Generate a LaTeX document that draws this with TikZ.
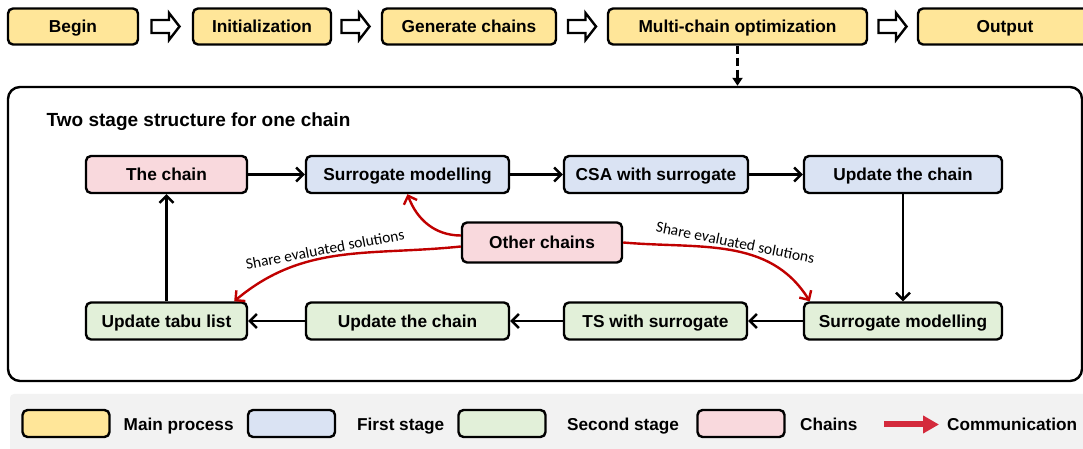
\documentclass[tikz,border=0pt]{standalone}
\usepackage{fontspec}
\setmainfont{Liberation Sans}
\newfontfamily\labelfont{Carlito}
\usetikzlibrary{arrows.meta}

\definecolor{mainfill}{HTML}{FFE699}
\definecolor{firstfill}{HTML}{DAE3F3}
\definecolor{secondfill}{HTML}{E2F0D9}
\definecolor{chainfill}{HTML}{F9D9DD}
\definecolor{sharered}{HTML}{C00000}
\definecolor{commred}{HTML}{D42A3C}
\definecolor{legendgray}{HTML}{F2F2F2}

\tikzset{
    box/.style={draw, line width=2.4pt, rounded corners=5pt, minimum height=37pt,
        inner sep=0pt, text height=12.4pt, text depth=0pt,
        font=\bfseries\fontsize{17.3}{20}\selectfont},
    mainbox/.style={box, fill=mainfill, minimum height=36pt},
    firstbox/.style={box, fill=firstfill},
    secondbox/.style={box, fill=secondfill},
    chainbox/.style={box, fill=chainfill},
    swatch/.style={box, minimum width=87pt, minimum height=27pt},
    hollow/.style={draw, line width=2.4pt, fill=white, miter limit=4},
    flow/.style={line width=2.4pt, -{Straight Barb[length=7pt,width=14pt]}},
    share/.style={sharered, line width=2.4pt, -{Straight Barb[length=7pt,width=14pt]}},
    sharetext/.style={font=\labelfont\fontsize{15.5}{17}\selectfont, text=black,
        sloped, above, inner sep=2pt},
    legendtext/.style={anchor=west, inner sep=0pt, text height=12.4pt, text depth=0pt,
        font=\bfseries\fontsize{17.2}{20}\selectfont},
}

\begin{document}
\begin{tikzpicture}[x=1pt, y=1pt]
    \useasboundingbox (0,0) rectangle (1083,449);

    % legend strip
    \fill[legendgray, rounded corners=4pt] (10,-10) rectangle (1100,55);

    % main process
    \foreach \name/\x/\w/\txt in {begin/73/130/Begin, init/262/138/Initialization,
            gen/469/174/Generate chains, multi/737.5/259/Multi-chain optimization,
            output/1005/174/Output}
        \node[mainbox, minimum width=\w pt] (\name) at (\x, 422.5) {\txt};
    % hollow arrows between the steps
    \foreach \x in {165.5, 355.5, 582, 892.5}
        \draw[hollow] (\x-14, 429) -- (\x+3.5, 429) -- (\x+3.5, 436) -- (\x+14, 422.5)
            -- (\x+3.5, 409) -- (\x+3.5, 416) -- (\x-14, 416) -- cycle;

    % one chain
    \node[draw, line width=2.4pt, rounded corners=12pt, minimum width=1074pt,
        minimum height=294pt] (frame) at (545, 215) {};
    \draw[line width=2.6pt, dash pattern=on 8pt off 4pt, -{Triangle[length=8pt,width=10pt]}]
        (multi.south) -- (multi.south |- frame.north);
    \node[anchor=west, inner sep=0pt, text height=13.6pt, text depth=0pt,
        font=\bfseries\fontsize{19}{22}\selectfont]
        (title) at (46.5, 329) {Two stage structure for one chain};

    % first stage
    \node[chainbox, minimum width=161pt] (chain) at (166.5, 274.5) {The chain};
    \node[firstbox, minimum width=203pt] (sm1) at (407.5, 274.5) {Surrogate modelling};
    \node[firstbox, minimum width=184pt] (csa) at (656, 274.5) {CSA with surrogate};
    \node[firstbox, minimum width=198pt] (uc1) at (903, 274.5) {Update the chain};

    % second stage
    \node[secondbox, minimum width=198pt] (sm2) at (903, 128) {Surrogate modelling};
    \node[secondbox, minimum width=183pt] (ts) at (655.5, 128) {TS with surrogate};
    \node[secondbox, minimum width=203pt] (uc2) at (407.5, 128) {Update the chain};
    \node[secondbox, minimum width=161pt] (tabu) at (166.5, 128) {Update tabu list};

    \node[chainbox, minimum width=160pt, minimum height=40pt] (oc) at (542, 206.5) {Other chains};

    \foreach \a/\b in {chain/sm1, sm1/csa, csa/uc1, uc1/sm2, sm2/ts, ts/uc2, uc2/tabu, tabu/chain}
        \draw[flow] (\a) -- (\b);

    % communication between chains
    \draw[share] ([yshift=7pt]oc.west) to[out=180, in=-70] (sm1.south);
    \draw[share] ([yshift=-4pt]oc.west) to[out=186, in=40]
        node[sharetext, pos=0.56] {Share evaluated solutions} ([xshift=-14pt]tabu.north east);
    \draw[share] (oc.east) to[out=-5, in=122]
        node[sharetext, pos=0.52] {Share evaluated solutions} ([xshift=7pt]sm2.north west);

    % legend
    \foreach \name/\x/\fillc in {lmain/66/mainfill, lfirst/291.5/firstfill,
            lsecond/502/secondfill, lchain/741/chainfill}
        \node[swatch, fill=\fillc] (\name) at (\x, 25.5) {};
    \node[legendtext] (tmain) at (123.5, 24.5) {Main process};
    \node[legendtext] (tfirst) at (357, 24.5) {First stage};
    \node[legendtext] (tsecond) at (567, 24.5) {Second stage};
    \node[legendtext] (tchain) at (800, 24.5) {Chains};
    \node[legendtext] (tcomm) at (947, 24.5) {Communication};
    \coordinate (ca) at (884, 24.5);
    \draw[commred, line width=6pt, -{Triangle[length=16pt,width=17pt]}]
        (ca) -- ([xshift=-8pt]tcomm.west);
\end{tikzpicture}
\end{document}
